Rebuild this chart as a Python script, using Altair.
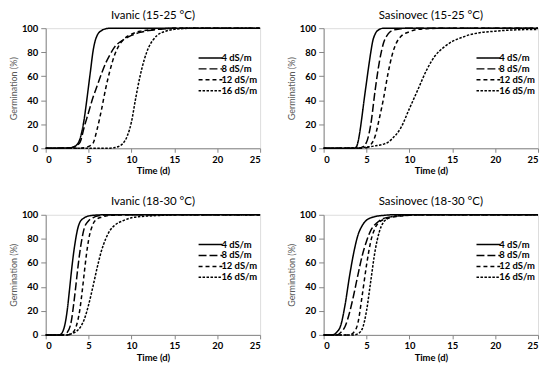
import altair as alt
import pandas as pd

levels = ["4 dS/m", "8 dS/m", "12 dS/m", "16 dS/m"]
dash_patterns = [[1, 0], [8, 3], [4, 3], [2.5, 1.5]]
x_ticks = [0, 5, 10, 15, 20, 25]
y_ticks = [0, 20, 40, 60, 80, 100]

# ---- Ivanic (15-25 °C) ----
iv1_4_t = [0, 3, 3.5, 4, 4.25, 4.5, 4.75, 5, 5.25, 5.5, 5.75, 6, 6.5, 7, 7.5, 25]
iv1_4_g = [0, 0.5, 2, 8, 15, 25, 38, 52, 66, 80, 89, 94, 98, 99.5, 100, 100]
iv1_8_t = [0, 2.5, 3, 3.5, 4, 4.5, 5, 5.5, 6, 6.5, 7, 7.5, 8, 9, 10, 11, 12, 13, 14, 15, 25]
iv1_8_g = [0, 0.1, 0.5, 2, 5, 18, 30, 42, 52, 62, 71, 78, 84, 90, 94, 96.5, 98, 99, 99.5, 100, 100]
iv1_12_t = [0, 4, 4.5, 5, 5.5, 6, 6.5, 7, 7.5, 8, 8.5, 9, 10, 11, 12, 13, 14, 15, 25]
iv1_12_g = [0, 0.1, 0.5, 1.5, 4, 16, 32, 50, 65, 77, 85, 90, 95, 97.5, 98.5, 99.3, 99.7, 100, 100]
iv1_16_t = [0, 7.5, 8, 8.5, 9, 9.5, 10, 10.5, 11, 11.5, 12, 12.5, 13, 14, 15, 16, 17, 25]
iv1_16_g = [0, 0.1, 0.5, 1.5, 4, 10, 22, 42, 60, 74, 84, 90, 94, 97.5, 99, 99.7, 100, 100]

# ---- Sasinovec (15-25 °C) ----
sa1_4_t = [0, 3.5, 3.8, 4, 4.25, 4.5, 4.75, 5, 5.25, 5.5, 5.75, 6, 6.5, 7, 25]
sa1_4_g = [0, 0, 1, 5, 15, 28, 42, 55, 68, 80, 90, 95, 99, 100, 100]
sa1_8_t = [0, 4, 4.5, 5, 5.5, 6, 6.5, 7, 7.5, 8, 9, 10, 25]
sa1_8_g = [0, 0.1, 1, 5, 20, 48, 72, 88, 95, 98, 99.5, 100, 100]
sa1_12_t = [0, 4.5, 5, 5.5, 6, 6.5, 7, 7.5, 8, 8.5, 9, 10, 11, 12, 14, 25]
sa1_12_g = [0, 0.1, 0.5, 3, 10, 25, 42, 62, 78, 88, 93, 97, 99, 99.5, 100, 100]
sa1_16_t = [0, 4, 5, 6, 7, 7.5, 8, 9, 10, 11, 12, 13, 14, 15, 16, 17, 18, 20, 22, 25]
sa1_16_g = [0, 0.3, 1, 2, 3.5, 5, 8, 17, 33, 49, 65, 77, 84, 89, 92, 94.5, 96, 97.5, 98.5, 99]

# ---- Ivanic (18-30 °C) ----
iv2_4_t = [0, 1.5, 1.75, 2, 2.25, 2.5, 2.75, 3, 3.25, 3.5, 3.75, 4, 4.5, 5, 6, 7, 25]
iv2_4_g = [0, 0, 0.5, 3, 9, 20, 36, 53, 68, 80, 89, 94, 97.5, 99, 99.8, 100, 100]
iv2_8_t = [0, 2, 2.5, 3, 3.25, 3.5, 3.75, 4, 4.25, 4.5, 5, 5.5, 6, 7, 8, 25]
iv2_8_g = [0, 0, 2, 12, 25, 40, 56, 70, 81, 89, 95, 97.5, 99, 99.8, 100, 100]
iv2_12_t = [0, 2.5, 3, 3.5, 4, 4.25, 4.5, 4.75, 5, 5.5, 6, 6.5, 7, 8, 9, 25]
iv2_12_g = [0, 0, 1, 6, 22, 36, 52, 67, 79, 92, 96.5, 98, 99, 99.7, 100, 100]
iv2_16_t = [0, 2.5, 3, 3.5, 4, 4.5, 5, 5.5, 6, 6.5, 7, 7.5, 8, 9, 10, 11, 12, 14, 15, 25]
iv2_16_g = [0, 0, 1, 2.5, 6, 13, 25, 40, 56, 70, 80, 87, 91, 95, 97.5, 98.5, 99, 99.7, 100, 100]

# ---- Sasinovec (18-30 °C) ----
sa2_4_t = [0, 1, 1.5, 2, 2.5, 3, 3.5, 4, 4.5, 5, 6, 7, 8, 25]
sa2_4_g = [0, 0, 2, 8, 25, 48, 68, 83, 91, 95.5, 98.5, 99.5, 100, 100]
sa2_8_t = [0, 1.5, 2, 2.5, 3, 3.5, 4, 4.5, 5, 5.5, 6, 6.5, 7, 8, 9, 10, 11, 25]
sa2_8_g = [0, 0, 2, 7, 18, 33, 50, 66, 78, 87, 92, 95, 97, 98.5, 99.3, 99.7, 100, 100]
sa2_12_t = [0, 3, 3.5, 4, 4.5, 5, 5.5, 6, 6.5, 7, 8, 9, 10, 11, 25]
sa2_12_g = [0, 0, 2, 10, 33, 58, 78, 89, 94, 96, 98, 99, 99.6, 100, 100]
sa2_16_t = [0, 3.5, 4, 4.5, 5, 5.5, 6, 6.5, 7, 7.5, 8, 9, 10, 25]
sa2_16_g = [0, 0, 1, 5, 20, 45, 70, 86, 94, 97, 98.5, 99.5, 100, 100]

panels = [
    ("Ivanic (15-25 °C)", [(iv1_4_t, iv1_4_g), (iv1_8_t, iv1_8_g), (iv1_12_t, iv1_12_g), (iv1_16_t, iv1_16_g)]),
    ("Sasinovec (15-25 °C)", [(sa1_4_t, sa1_4_g), (sa1_8_t, sa1_8_g), (sa1_12_t, sa1_12_g), (sa1_16_t, sa1_16_g)]),
    ("Ivanic (18-30 °C)", [(iv2_4_t, iv2_4_g), (iv2_8_t, iv2_8_g), (iv2_12_t, iv2_12_g), (iv2_16_t, iv2_16_g)]),
    ("Sasinovec (18-30 °C)", [(sa2_4_t, sa2_4_g), (sa2_8_t, sa2_8_g), (sa2_12_t, sa2_12_g), (sa2_16_t, sa2_16_g)]),
]

FONT = "Lato"


def make_panel(title, series):
    rows = []
    for lvl, (ts, gs) in zip(levels, series):
        for t, g in zip(ts, gs):
            rows.append({"t": t, "g": g, "level": lvl})
    df = pd.DataFrame(rows)
    return alt.Chart(df).mark_line(
        color="black", strokeWidth=1.5, interpolate="monotone"
    ).encode(
        x=alt.X("t:Q", scale=alt.Scale(domain=[0, 25], nice=False),
                axis=alt.Axis(values=x_ticks, title="Time (d)", grid=False,
                              domainColor="#868686", tickColor="#868686",
                              tickSize=4, labelPadding=2,
                              labelFont=FONT, labelFontSize=9.5, labelFontWeight="bold",
                              labelColor="#000000",
                              titleFont=FONT, titleFontSize=9.5, titleFontWeight="bold",
                              titleColor="#000000", titlePadding=2)),
        y=alt.Y("g:Q", scale=alt.Scale(domain=[0, 100], nice=False),
                axis=alt.Axis(values=y_ticks, title="Germination (%)", grid=False,
                              domainColor="#868686", tickColor="#868686",
                              tickSize=5, labelPadding=3,
                              labelFont=FONT, labelFontSize=9.5, labelFontWeight="bold",
                              labelColor="#000000",
                              titleFont=FONT, titleFontSize=9, titleFontWeight="normal",
                              titleColor="#595959", titlePadding=3)),
        strokeDash=alt.StrokeDash(
            "level:N",
            scale=alt.Scale(domain=levels, range=dash_patterns),
            legend=alt.Legend(
                title=None, orient="none", legendX=160, legendY=24,
                direction="vertical", columns=1,
                symbolType="M-2.5,0H2.5", symbolSize=92, symbolStrokeWidth=1.5,
                symbolStrokeColor="black", symbolFillColor="transparent",
                labelFont=FONT, labelFontSize=9.5, labelFontWeight="bold",
                labelAlign="left",
                labelColor="#000000", labelOffset=5, padding=0, rowPadding=-2,
            ),
        ),
    ).properties(
        width=216, height=121,
        title=alt.TitleParams(title, font=FONT, fontSize=11.5, fontWeight="normal",
                              anchor="middle", color="#000000", offset=2),
    )


charts = [make_panel(t, s) for t, s in panels]
top = alt.hconcat(charts[0], charts[1], spacing=22).resolve_scale(strokeDash="independent").resolve_legend(strokeDash="independent")
bottom = alt.hconcat(charts[2], charts[3], spacing=22).resolve_scale(strokeDash="independent").resolve_legend(strokeDash="independent")
chart = alt.vconcat(top, bottom, spacing=20).resolve_scale(strokeDash="independent").resolve_legend(
    strokeDash="independent"
).properties(
    padding={"left": 0, "top": 0, "right": 0, "bottom": 0}
).configure_view(stroke=None).configure(background="white")

chart.save("out.html", embed_options={"renderer": "svg", "actions": False})
